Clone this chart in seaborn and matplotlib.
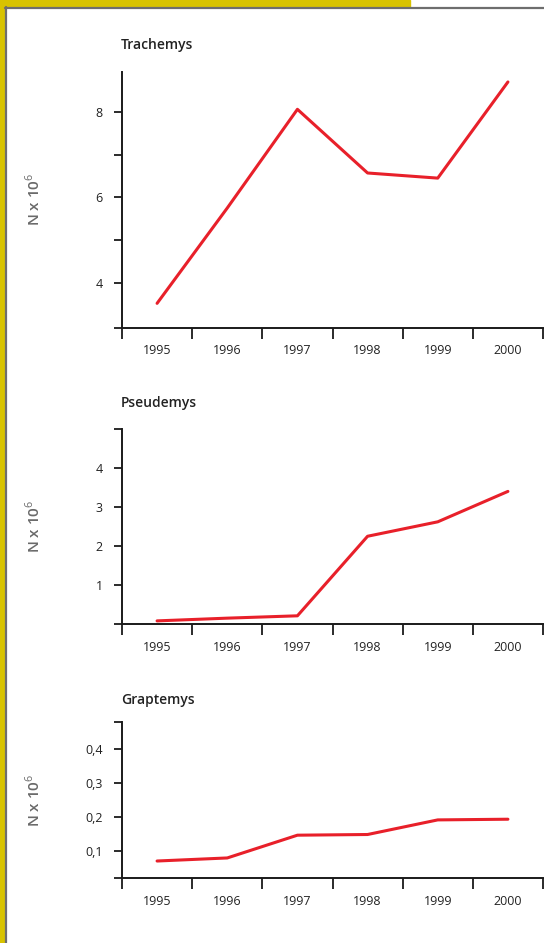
import matplotlib
matplotlib.use("Agg")
import matplotlib.pyplot as plt
import seaborn as sns
import pandas as pd
from matplotlib.patches import Rectangle
from matplotlib.lines import Line2D

# Datos (N x 10^6)
anios = [1995, 1996, 1997, 1998, 1999, 2000]
trachemys = [3.52, 5.75, 8.06, 6.57, 6.45, 8.70]
pseudemys = [0.08, 0.15, 0.21, 2.25, 2.62, 3.40]
graptemys = [0.070, 0.079, 0.146, 0.148, 0.191, 0.193]

nombres = ["Trachemys", "Pseudemys", "Graptemys"]
series = [trachemys, pseudemys, graptemys]

# Ejes y: límites, ticks y etiquetas de cada panel
limites_y = [(2.95, 8.94), (0, 5), (0.02, 0.48)]
ticks_y = [[2.95, 4, 5, 6, 7, 8], [0, 1, 2, 3, 4, 5], [0.02, 0.1, 0.2, 0.3, 0.4, 0.48]]
etiquetas_y = [["", "4", "", "6", "", "8"],
               ["", "1", "2", "3", "4", ""],
               ["", "0,1", "0,2", "0,3", "0,4", ""]]

sns.set_style("ticks")
plt.rcParams["font.family"] = ["Open Sans", "DejaVu Sans"]
plt.rcParams["mathtext.fontset"] = "custom"
plt.rcParams["mathtext.rm"] = "Open Sans"

W, H = 544, 943
fig = plt.figure(figsize=(W / 100, H / 100), dpi=100)
fig.patch.set_facecolor("white")

# Marco amarillo y borde gris
fig.add_artist(Rectangle((0, 0), 5 / W, 1, transform=fig.transFigure, color="#d8c300", zorder=0))
fig.add_artist(Rectangle((0, 1 - 7 / H), 410 / W, 7 / H, transform=fig.transFigure, color="#d8c300", zorder=0))
fig.add_artist(Line2D([5.7 / W, 5.7 / W], [0, 1 - 7 / H], transform=fig.transFigure, color="#6e6e6e", lw=1.6))
fig.add_artist(Line2D([5 / W, 1], [1 - 8 / H, 1 - 8 / H], transform=fig.transFigure, color="#6e6e6e", lw=1.6))

# posiciones de los paneles en píxeles (arriba, abajo)
paneles = [(71.7, 327.7), (429, 624), (721.7, 878)]
titulos_y = [45, 403, 700]

for i, nombre in enumerate(nombres):
    arriba, abajo = paneles[i]
    ax = fig.add_axes([122 / W, 1 - abajo / H, 421 / W, (abajo - arriba) / H])
    df = pd.DataFrame({"anio": anios, "valor": series[i]})
    sns.lineplot(data=df, x="anio", y="valor", ax=ax, color="#e8202a", lw=2.2)

    ax.set_xlim(1994.5, 2000.5)
    ax.set_ylim(*limites_y[i])
    sns.despine(ax=ax)
    for s in ["left", "bottom"]:
        ax.spines[s].set_linewidth(1.4)
        ax.spines[s].set_color("#1a1a1a")

    # ticks x en los bordes, etiquetas en el centro de cada año
    ax.set_xticks([a - 0.5 for a in anios] + [anios[-1] + 0.5])
    ax.set_xticklabels([])
    ax.set_xticks(anios, minor=True)
    ax.set_xticklabels([str(a) for a in anios], minor=True)
    ax.tick_params(axis="x", which="major", length=8, width=1.3, color="#1a1a1a")
    ax.tick_params(axis="x", which="minor", length=0, pad=12, labelsize=9, labelcolor="#222222")

    ax.set_yticks(ticks_y[i])
    ax.set_yticklabels(etiquetas_y[i])
    ax.tick_params(axis="y", length=6, width=1.3, color="#1a1a1a", pad=8, labelsize=9, labelcolor="#222222")

    ax.set_xlabel("")
    ax.set_ylabel("N x 10$^{6}$", color="#6a6a6a", fontsize=11, fontweight="semibold")
    ax.yaxis.set_label_coords(-(122 - 43) / 421, 0.5)

    fig.text(121 / W, 1 - titulos_y[i] / H, nombre, fontsize=10, fontweight="semibold",
             color="#222222", ha="left", va="center")

plt.savefig("out.png", dpi=100)
plt.close()
